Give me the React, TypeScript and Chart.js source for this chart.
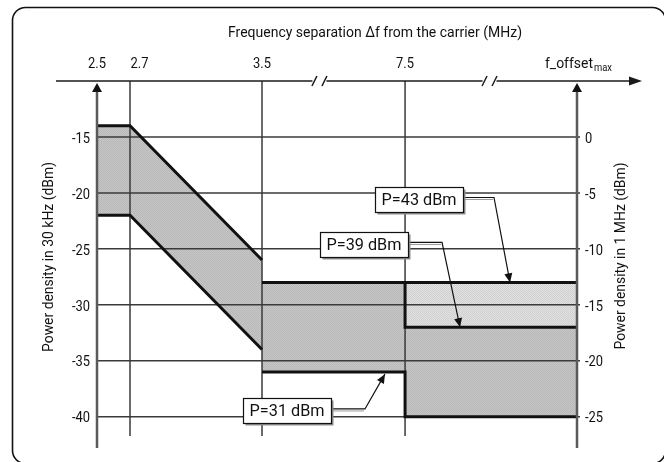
import React, { useEffect, useRef } from 'react';
import { Chart, registerables } from 'chart.js';

Chart.register(...registerables);

const FONT = "Roboto, 'Liberation Sans', 'DejaVu Sans', sans-serif";

// ---- data -----------------------------------------------------------------
// frequency axis (broken axis: 3.5 -> 7.5 -> f_offset_max are compressed)
const xTickLabels = ['2.5', '2.7', '3.5', '7.5', 'f_offset_max'];
const xTickPositions = [0, 0.2, 1.0, 1.867, 2.909];
const xBreaks = [1.348, 2.379];

const leftTicks = [-40, -35, -30, -25, -20, -15]; // dBm in 30 kHz
const rightTicks = [-25, -20, -15, -10, -5, 0]; // dBm in 1 MHz

// upper limit (P = 43 dBm)
const upperFreq = ['2.5', '2.7', '3.5', '3.5', 'f_offset_max'];
const upperDbm = [-14, -14, -26, -28, -28];
// middle step (P = 39 dBm)
const midFreq = ['7.5', '7.5', 'f_offset_max'];
const midDbm = [-28, -32, -32];
// lower limit (P = 31 dBm)
const lowerFreq = ['2.5', '2.7', '3.5', '3.5', '7.5', '7.5', 'f_offset_max'];
const lowerDbm = [-22, -22, -34, -36, -36, -40, -40];

const boxLabels = ['P=43 dBm', 'P=39 dBm', 'P=31 dBm'];

const title = 'Frequency separation \u0394f from the carrier (MHz)';
const leftTitle = 'Power density in 30 kHz (dBm)';
const rightTitle = 'Power density in 1 MHz (dBm)';

// ---------------------------------------------------------------------------
const pos = (f: string) => xTickPositions[xTickLabels.indexOf(f)];
const pts = (fs: string[], vs: number[]) => fs.map((f, i) => ({ x: pos(f), y: vs[i] }));

function makePattern(a: string, b: string): CanvasPattern | string {
  const cv = document.createElement('canvas');
  cv.width = 2;
  cv.height = 2;
  const g = cv.getContext('2d');
  if (!g) return a;
  g.fillStyle = a;
  g.fillRect(0, 0, 2, 2);
  g.fillStyle = b;
  g.fillRect(0, 0, 1, 1);
  g.fillRect(1, 1, 1, 1);
  const p = g.createPattern(cv, 'repeat');
  return p || a;
}

function fitText(ctx: CanvasRenderingContext2D, text: string, x: number, y: number, width: number, align: CanvasTextAlign) {
  const w = ctx.measureText(text).width || 1;
  const sx = width / w;
  ctx.save();
  ctx.translate(x, y);
  ctx.scale(sx, 1);
  ctx.textAlign = align;
  ctx.fillText(text, 0, 0);
  ctx.restore();
}

const COND = 0.86;
function condText(ctx: CanvasRenderingContext2D, text: string, x: number, y: number, align: CanvasTextAlign) {
  ctx.save();
  ctx.translate(x, y);
  ctx.scale(COND, 1);
  ctx.textAlign = align;
  ctx.fillText(text, 0, 0);
  ctx.restore();
}

// annotation layout (box centre, elbow of leader, arrow tip) in data units
const annotLayout = [
  { bx: 1.952, by: -20.59, ex: 2.406, tx: 2.503, ty: -28 },
  { bx: 1.618, by: -24.61, ex: 2.091, tx: 2.2, ty: -32 },
  { bx: 1.152, by: -39.49, ex: 1.624, tx: 1.745, ty: -36.2 },
];

const decorPlugin = {
  id: 'decor',
  beforeDatasetsDraw(chart: any) {
    chart.$gridDone = false;
  },
  beforeDatasetDraw(chart: any, args: any) {
    const ds = chart.data.datasets[args.index];
    if (chart.$gridDone || ds.order !== 0) return;
    chart.$gridDone = true;
    const { ctx, chartArea } = chart;
    const xs = chart.scales.x;
    const ys = chart.scales.y;
    ctx.save();
    ctx.strokeStyle = '#3a3a3a';
    ctx.lineWidth = 1.5;
    const xl = xs.getPixelForValue(pos('2.5'));
    const xr = xs.getPixelForValue(pos('f_offset_max'));
    for (const t of ys.ticks) {
      const y = ys.getPixelForValue(t.value);
      ctx.beginPath();
      ctx.moveTo(xl, y);
      ctx.lineTo(xr + 3, y);
      ctx.stroke();
    }
    for (const f of ['2.7', '3.5', '7.5']) {
      const x = xs.getPixelForValue(pos(f));
      ctx.beginPath();
      ctx.moveTo(x, chartArea.top);
      ctx.lineTo(x, chartArea.bottom - 12);
      ctx.stroke();
    }
    ctx.restore();
  },
  afterDatasetsDraw(chart: any) {
    const { ctx, chartArea } = chart;
    const xs = chart.scales.x;
    const y0 = chartArea.top;
    ctx.save();
    // top frequency axis with breaks and arrow
    ctx.strokeStyle = '#1a1a1a';
    ctx.fillStyle = '#1a1a1a';
    ctx.lineWidth = 1.5;
    const bxs = xBreaks.map((b) => xs.getPixelForValue(b));
    const segs = [chartArea.left - 41, bxs[0] - 7, bxs[0] + 7, bxs[1] - 7, bxs[1] + 7, chartArea.right + 54];
    for (let i = 0; i < segs.length; i += 2) {
      ctx.beginPath();
      ctx.moveTo(segs[i], y0);
      ctx.lineTo(segs[i + 1], y0);
      ctx.stroke();
    }
    for (const bx of bxs) {
      for (const sx of [bx - 5, bx + 5]) {
        ctx.beginPath();
        ctx.moveTo(sx - 2.5, y0 + 5);
        ctx.lineTo(sx + 2.5, y0 - 5);
        ctx.stroke();
      }
    }
    ctx.beginPath();
    ctx.moveTo(chartArea.right + 52, y0 - 4.5);
    ctx.lineTo(chartArea.right + 65, y0);
    ctx.lineTo(chartArea.right + 52, y0 + 4.5);
    ctx.closePath();
    ctx.fill();
    // vertical power axes with arrows
    for (const ax of [chartArea.left, chartArea.right]) {
      ctx.strokeStyle = '#5a5a5a';
      ctx.lineWidth = 2.5;
      ctx.beginPath();
      ctx.moveTo(ax, y0 + 10);
      ctx.lineTo(ax, chartArea.bottom);
      ctx.stroke();
      ctx.fillStyle = '#111';
      ctx.beginPath();
      ctx.moveTo(ax, y0 + 2);
      ctx.lineTo(ax + 5, y0 + 11);
      ctx.lineTo(ax - 5, y0 + 11);
      ctx.closePath();
      ctx.fill();
    }
    ctx.restore();
  },
  afterDraw(chart: any) {
    const { ctx, chartArea } = chart;
    const xs = chart.scales.x;
    const ys = chart.scales.y;
    const ys2 = chart.scales.y2;
    ctx.save();
    // rounded frame
    ctx.strokeStyle = '#111';
    ctx.lineWidth = 1.6;
    ctx.beginPath();
    (ctx as any).roundRect(12.5, 7.5, 653, 456, 13);
    ctx.stroke();

    ctx.fillStyle = '#111';
    ctx.textBaseline = 'alphabetic';
    // title
    ctx.font = `15px ${FONT}`;
    fitText(ctx, title, 375, 37, 294, 'center');
    // x tick labels
    ctx.font = `15px ${FONT}`;
    xTickLabels.forEach((lab, i) => {
      const x = xs.getPixelForValue(xTickPositions[i]);
      const yb = 67.5;
      if (lab === 'f_offset_max') {
        const w1 = 48;
        const w2 = 18;
        const start = x - (w1 + w2) / 2 + 1;
        ctx.font = `15px ${FONT}`;
        fitText(ctx, 'f_offset', start, yb, w1, 'left');
        ctx.font = `11px ${FONT}`;
        fitText(ctx, 'max', start + w1 + 1, yb + 3, w2, 'left');
        ctx.font = `15px ${FONT}`;
      } else if (lab === '2.7') {
        condText(ctx, lab, x + 0.5, yb, 'left');
      } else {
        condText(ctx, lab, x, yb, 'center');
      }
    });
    // y tick labels
    ctx.font = `15px ${FONT}`;
    ctx.textBaseline = 'middle';
    for (const t of ys.ticks) {
      condText(ctx, String(t.value), chartArea.left - 7, ys.getPixelForValue(t.value) + 2, 'right');
    }
    for (const t of ys2.ticks) {
      condText(ctx, String(t.value), chartArea.right + 8, ys2.getPixelForValue(t.value) + 2, 'left');
    }
    // y titles
    ctx.font = `15px ${FONT}`;
    ctx.save();
    ctx.translate(49, 257);
    ctx.rotate(-Math.PI / 2);
    fitText(ctx, leftTitle, 0, 0, 190, 'center');
    ctx.restore();
    ctx.save();
    ctx.translate(621, 256);
    ctx.rotate(-Math.PI / 2);
    fitText(ctx, rightTitle, 0, 0, 187, 'center');
    ctx.restore();

    // annotation boxes with leaders
    annotLayout.forEach((a, i) => {
      const bx = xs.getPixelForValue(a.bx);
      const by = ys.getPixelForValue(a.by);
      const ex = xs.getPixelForValue(a.ex);
      const tx = xs.getPixelForValue(a.tx);
      const ty = ys.getPixelForValue(a.ty);
      const w = 88;
      const h = 25;
      const ly = by - 2;
      const rx = bx + w / 2;
      // leader shadow
      ctx.strokeStyle = '#9a9a9a';
      ctx.lineWidth = 1;
      ctx.beginPath();
      ctx.moveTo(rx, ly + 2);
      ctx.lineTo(ex - 1, ly + 2);
      ctx.stroke();
      // leader
      ctx.strokeStyle = '#111';
      ctx.lineWidth = 1.2;
      ctx.beginPath();
      ctx.moveTo(rx, ly);
      ctx.lineTo(ex, ly);
      ctx.lineTo(tx, ty);
      ctx.stroke();
      // arrow head
      const ang = Math.atan2(ty - ly, tx - ex);
      const L = 9;
      const W = 4;
      ctx.fillStyle = '#111';
      ctx.beginPath();
      ctx.moveTo(tx, ty);
      ctx.lineTo(tx - L * Math.cos(ang) + W * Math.sin(ang), ty - L * Math.sin(ang) - W * Math.cos(ang));
      ctx.lineTo(tx - L * Math.cos(ang) - W * Math.sin(ang), ty - L * Math.sin(ang) + W * Math.cos(ang));
      ctx.closePath();
      ctx.fill();
      // box shadow
      const x0 = Math.round(bx - w / 2) + 0.5;
      const yTop = Math.round(by - h / 2) + 0.5;
      ctx.fillStyle = '#8c8c8c';
      ctx.fillRect(x0 + 2, yTop + 2, w, h);
      ctx.fillStyle = '#fff';
      ctx.fillRect(x0, yTop, w, h);
      ctx.strokeStyle = '#111';
      ctx.lineWidth = 1.2;
      ctx.strokeRect(x0, yTop, w, h);
      ctx.fillStyle = '#111';
      ctx.font = `17px ${FONT}`;
      ctx.textBaseline = 'middle';
      fitText(ctx, boxLabels[i], bx, by + 1, 75, 'center');
    });
    ctx.restore();
  },
};

export default function App() {
  const ref = useRef<HTMLCanvasElement | null>(null);

  useEffect(() => {
    const canvas = ref.current;
    if (!canvas) return;
    const upper = pts(upperFreq, upperDbm);
    const mid = pts(midFreq, midDbm);
    const lower = pts(lowerFreq, lowerDbm);
    // fill polygons built from the limit lines
    const darkPoly = [...upper.slice(0, 4), ...mid, ...lower.slice().reverse()];
    const lightPoly = [mid[0], upper[upper.length - 1], mid[2], mid[1]];

    const darkPat = makePattern('#c6c6c6', '#b8b8b8');
    const lightPat = makePattern('#e2e2e2', '#cfcfcf');
    const x35 = pos('3.5');
    const hideVertical35 = (c: any) =>
      c.p0.parsed.x === x35 && c.p1.parsed.x === x35 ? 'rgba(0,0,0,0)' : undefined;

    const lineDs = (data: any[]) => ({
      data,
      borderColor: '#111',
      borderWidth: 3,
      pointRadius: 0,
      fill: false,
      order: 0,
      clip: false as any,
      segment: { borderColor: hideVertical35 },
    });

    const chart = new Chart(canvas, {
      type: 'line',
      data: {
        datasets: [
          lineDs(upper),
          lineDs(mid),
          lineDs(lower),
          { data: darkPoly, borderWidth: 0, borderColor: 'rgba(0,0,0,0)', backgroundColor: darkPat as any, fill: 'shape', pointRadius: 0, order: 1 } as any,
          { data: lightPoly, borderWidth: 0, borderColor: 'rgba(0,0,0,0)', backgroundColor: lightPat as any, fill: 'shape', pointRadius: 0, order: 1 } as any,
        ],
      },
      options: {
        responsive: false,
        animation: false,
        events: [],
        layout: { padding: { top: 81, bottom: 14, left: 0, right: 0 } },
        plugins: { legend: { display: false }, tooltip: { enabled: false }, title: { display: false } },
        scales: {
          x: { type: 'linear', min: 0, max: xTickPositions[xTickPositions.length - 1], display: false },
          y: {
            type: 'linear',
            position: 'left',
            min: -42.8,
            max: -10,
            afterFit: (s: any) => {
              s.width = 97;
            },
            afterBuildTicks: (s: any) => {
              s.ticks = leftTicks.map((v) => ({ value: v }));
            },
            grid: { display: false },
            border: { display: false },
            ticks: { display: false },
          },
          y2: {
            type: 'linear',
            position: 'right',
            min: -27.8,
            max: 5,
            afterFit: (s: any) => {
              s.width = 87;
            },
            afterBuildTicks: (s: any) => {
              s.ticks = rightTicks.map((v) => ({ value: v }));
            },
            grid: { display: false },
            border: { display: false },
            ticks: { display: false },
          },
        },
      } as any,
      plugins: [decorPlugin],
    });
    return () => chart.destroy();
  }, []);

  return (
    <div style={{ position: 'absolute', left: 0, top: 0, width: 664, height: 462, background: '#fff' }}>
      <canvas ref={ref} width={664} height={462} style={{ display: 'block' }} />
    </div>
  );
}
